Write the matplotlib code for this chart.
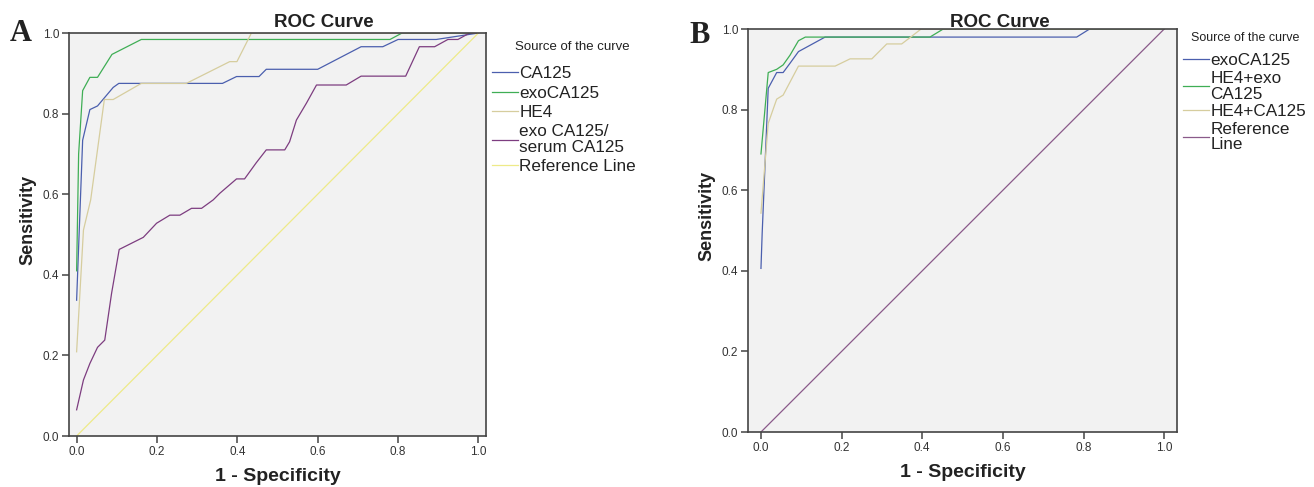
import matplotlib
matplotlib.use('Agg')
import matplotlib.pyplot as plt

plt.rcParams['font.family'] = ['Liberation Sans', 'DejaVu Sans']

# ---- panel A data ----
a_ca125_fpr = [0, 0.015, 0.033, 0.052, 0.091, 0.105, 0.363, 0.398, 0.454, 0.472, 0.60, 0.708, 0.762, 0.80, 0.895, 1.0]
a_ca125_tpr = [0.337, 0.734, 0.81, 0.819, 0.865, 0.875, 0.875, 0.892, 0.892, 0.91, 0.91, 0.966, 0.966, 0.984, 0.984, 1.0]

a_exo_fpr = [0, 0.005, 0.015, 0.033, 0.052, 0.088, 0.161, 0.78, 0.81, 1.0]
a_exo_tpr = [0.41, 0.70, 0.857, 0.89, 0.89, 0.947, 0.984, 0.984, 1.0, 1.0]

a_he4_fpr = [0, 0.017, 0.035, 0.069, 0.091, 0.161, 0.273, 0.381, 0.399, 0.435, 1.0]
a_he4_tpr = [0.209, 0.511, 0.586, 0.835, 0.835, 0.875, 0.875, 0.929, 0.929, 1.0, 1.0]

a_ratio_fpr = [0, 0.017, 0.033, 0.052, 0.07, 0.087, 0.106, 0.166, 0.199, 0.232, 0.257, 0.286, 0.311,
               0.34, 0.356, 0.398, 0.418, 0.447, 0.472, 0.518, 0.53, 0.547, 0.572, 0.597, 0.671,
               0.708, 0.819, 0.853, 0.891, 0.924, 0.949, 0.978, 1.0]
a_ratio_tpr = [0.065, 0.139, 0.18, 0.22, 0.238, 0.354, 0.463, 0.493, 0.528, 0.548, 0.548, 0.565, 0.565,
               0.586, 0.602, 0.638, 0.638, 0.678, 0.71, 0.71, 0.73, 0.784, 0.826, 0.871, 0.871,
               0.893, 0.893, 0.966, 0.966, 0.984, 0.984, 1.0, 1.0]

# ---- panel B data ----
b_exo_fpr = [0, 0.003, 0.018, 0.039, 0.055, 0.072, 0.093, 0.159, 0.783, 0.815, 1.0]
b_exo_tpr = [0.406, 0.493, 0.853, 0.892, 0.892, 0.915, 0.944, 0.98, 0.98, 1.0, 1.0]

b_he4exo_fpr = [0, 0.018, 0.039, 0.055, 0.072, 0.093, 0.11, 0.419, 0.452, 1.0]
b_he4exo_tpr = [0.69, 0.892, 0.90, 0.911, 0.935, 0.971, 0.98, 0.98, 1.0, 1.0]

b_he4ca_fpr = [0, 0.018, 0.039, 0.055, 0.093, 0.184, 0.221, 0.275, 0.312, 0.349, 0.37, 0.397, 1.0]
b_he4ca_tpr = [0.543, 0.766, 0.826, 0.836, 0.908, 0.908, 0.926, 0.926, 0.963, 0.963, 0.979, 1.0, 1.0]

ref_line = [0, 1]
ticks = [0.0, 0.2, 0.4, 0.6, 0.8, 1.0]

blue = '#4b5fae'
green = '#3fae55'
tan = '#d6cd9e'
purple = '#7d3d80'
yellow = '#eeea88'
spine_col = '#444444'
text_col = '#222222'

fig = plt.figure(figsize=(13.14, 4.87), dpi=100)
axA = fig.add_axes([0.0525, 0.1047, 0.3174, 0.8275])
axB = fig.add_axes([0.5693, 0.1129, 0.3265, 0.8275])


def style_axes(ax, xpad):
    ax.set_facecolor('#f2f2f2')
    ax.set_xlim(-xpad, 1 + xpad)
    ax.set_ylim(0, 1)
    ax.set_xticks(ticks)
    ax.set_yticks(ticks)
    ax.set_xticklabels([f'{t:.1f}' for t in ticks])
    ax.set_yticklabels([f'{t:.1f}' for t in ticks])
    for s in ax.spines.values():
        s.set_color(spine_col)
        s.set_linewidth(1.2)
    ax.tick_params(length=5, width=1.1, color=spine_col, labelsize=8.5,
                   labelcolor='#333333', pad=2)
    ax.set_xlabel('1 - Specificity', fontsize=14, fontweight='bold', color=text_col)
    ax.set_ylabel('Sensitivity', fontsize=13, fontweight='bold', color=text_col)
    ax.xaxis.set_label_coords(0.5, -0.08)


lw = 0.9

# --- A ---
style_axes(axA, 0.019)
axA.plot(a_ca125_fpr, a_ca125_tpr, color=blue, lw=lw, label='CA125')
axA.plot(a_exo_fpr, a_exo_tpr, color=green, lw=lw, label='exoCA125')
axA.plot(a_he4_fpr, a_he4_tpr, color=tan, lw=lw, label='HE4')
axA.plot(a_ratio_fpr, a_ratio_tpr, color=purple, lw=lw, label='exo CA125/\nserum CA125')
axA.plot(ref_line, ref_line, color=yellow, lw=lw, label='Reference Line')
axA.yaxis.set_label_coords(-0.077, 0.535)

# --- B ---
style_axes(axB, 0.032)
axB.plot(b_exo_fpr, b_exo_tpr, color=blue, lw=lw, label='exoCA125')
axB.plot(b_he4exo_fpr, b_he4exo_tpr, color=green, lw=lw, label='HE4+exo\nCA125')
axB.plot(b_he4ca_fpr, b_he4ca_tpr, color=tan, lw=lw, label='HE4+CA125')
axB.plot(ref_line, ref_line, color='#8a5a8a', lw=lw, label='Reference\nLine')
axB.yaxis.set_label_coords(-0.075, 0.535)

# legends (title drawn separately so its gap to the entries matches)
for ax, anchor, spacing in [(axA, (1.0144, 0.917), 0.25), (axB, (1.014, 0.9395), 0.15)]:
    leg = ax.legend(loc='upper left', bbox_to_anchor=anchor,
                    frameon=False, fontsize=12.3, handlelength=1.5,
                    handletextpad=0.1, labelspacing=spacing, borderpad=0, borderaxespad=0)
    for t in leg.get_texts():
        t.set_linespacing(1.05)
        t.set_color(text_col)

fig.text(572 / 1314, 1 - 47 / 487, 'Source of the curve', ha='center', va='center',
         fontsize=9.5, color=text_col)
fig.text(1245 / 1314, 1 - 38 / 487, 'Source of the curve', ha='center', va='center',
         fontsize=9, color=text_col)

fig.text(0.2466, 0.9446, 'ROC Curve', ha='center', va='baseline', fontsize=13.5,
         fontweight='bold', color=text_col)
fig.text(0.761, 0.9446, 'ROC Curve', ha='center', va='baseline', fontsize=13.5,
         fontweight='bold', color=text_col)

fig.text(0.0076, 0.9158, 'A', ha='left', va='baseline', fontsize=22, fontweight='bold',
         family='Liberation Serif', color=text_col)
fig.text(0.525, 0.9117, 'B', ha='left', va='baseline', fontsize=22, fontweight='bold',
         family='Liberation Serif', color=text_col)

fig.savefig('out.png', dpi=100)
